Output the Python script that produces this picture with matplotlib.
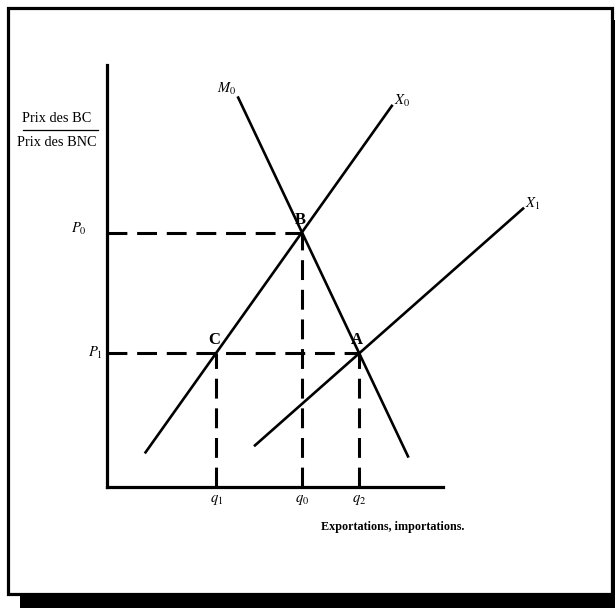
import matplotlib
matplotlib.use("Agg")
import numpy as np
from matplotlib import pyplot as plt
from matplotlib.patches import Rectangle

plt.rcParams['mathtext.fontset'] = 'stix'
plt.rcParams['font.family'] = ['Liberation Serif', 'DejaVu Serif']

# curve endpoints (quantity, price)
M0_X = [3.11, 7.18]
M0_Y = [9.3, 0.7]
X0_X = [0.9, 6.8]
X0_Y = [0.8, 9.1]
X1_X = [3.5, 9.93]
X1_Y = [0.97, 6.65]

# equilibrium levels
Q_VALS = [2.6, 4.65, 6.0]          # q1, q0, q2
Q_PRICE = [3.2, 6.05, 3.2]         # price reached above each q
Q_LABELS = ["$q_1$", "$q_0$", "$q_2$"]
P_VALS = [6.05, 3.2]               # P0, P1
P_QTY = [4.65, 6.0]                # quantity where each P line ends
P_LABELS = ["$P_0$", "$P_1$"]

PT_NAMES = ["B", "C", "A"]
PT_X = [4.65, 2.6, 6.0]
PT_Y = [6.05, 3.2, 3.2]

W, H = 615, 608
fig = plt.figure(figsize=(W / 100, H / 100), dpi=100)

# frame with shadow, drawn in pixel units
bg = fig.add_axes([0, 0, 1, 1])
bg.set_xlim(0, W)
bg.set_ylim(H, 0)
bg.axis("off")
bg.add_patch(Rectangle((20, 594), 600, 20, color="black", lw=0))
bg.add_patch(Rectangle((611, 20), 10, 600, color="black", lw=0))
bg.add_patch(Rectangle((7.5, 7.5), 604, 586, fill=False, ec="black", lw=2.3))

# diagram axes: origin at pixel (107, 487), 42 px per unit
px = 42.0
ax = fig.add_axes([107 / W, 1 - 487 / H, 10 * px / W, 10 * px / H])
ax.set_xlim(0, 10)
ax.set_ylim(0, 10)
ax.patch.set_alpha(0)
for s in ["top", "right"]:
    ax.spines[s].set_visible(False)
ax.spines["left"].set_linewidth(2.3)
ax.spines["bottom"].set_linewidth(2.3)
ax.spines["bottom"].set_bounds(0, 8.0)
ax.spines["left"].set_bounds(0, 10.05)
ax.set_xticks([])
ax.set_yticks([])

lw = 1.9
ax.plot(M0_X, M0_Y, color="black", lw=lw, clip_on=False, solid_capstyle="butt")
ax.plot(X0_X, X0_Y, color="black", lw=lw, clip_on=False, solid_capstyle="butt")
ax.plot(X1_X, X1_Y, color="black", lw=lw, clip_on=False, solid_capstyle="butt")

dash = (0, (6.5, 3.2))
for q, p in zip(Q_VALS, Q_PRICE):
    ax.plot([q, q], [0, p], color="black", lw=2.2, ls=dash, clip_on=False)
for p, q in zip(P_VALS, P_QTY):
    ax.plot([0, q], [p, p], color="black", lw=2.2, ls=dash, clip_on=False)

# labels
for q, lab in zip(Q_VALS, Q_LABELS):
    ax.text(q, -0.3, lab, ha="center", va="center", fontsize=10.5, clip_on=False)
ax.text(-0.66, 6.15, P_LABELS[0], ha="center", va="center", fontsize=10.5, clip_on=False)
ax.text(-0.27, 3.2, P_LABELS[1], ha="center", va="center", fontsize=10.5, clip_on=False)
ax.text(M0_X[0] - 0.27, M0_Y[0] + 0.17, "$M_0$", ha="center", va="center", fontsize=10.5, clip_on=False)
ax.text(X0_X[1] + 0.22, X0_Y[1] + 0.08, "$X_0$", ha="center", va="center", fontsize=10.5, clip_on=False)
ax.text(X1_X[1] + 0.2, X1_Y[1] + 0.1, "$X_1$", ha="center", va="center", fontsize=10.5, clip_on=False)

for name, x, y in zip(PT_NAMES, PT_X, PT_Y):
    ax.text(x - 0.05, y + 0.3, name, ha="center", va="center", fontsize=12,
            fontweight="bold", clip_on=False)

ax.text(6.8, -0.95, "Exportations, importations.", ha="center", va="center",
        fontsize=8.7, fontweight="bold", clip_on=False)

# y-axis label as a fraction
bg.text(57, 118, "Prix des BC", ha="center", va="center", fontsize=10.3)
bg.plot([23, 98], [129.5, 129.5], color="black", lw=0.9)
bg.text(57, 142, "Prix des BNC", ha="center", va="center", fontsize=10.3)

fig.savefig("out.png", dpi=100)
